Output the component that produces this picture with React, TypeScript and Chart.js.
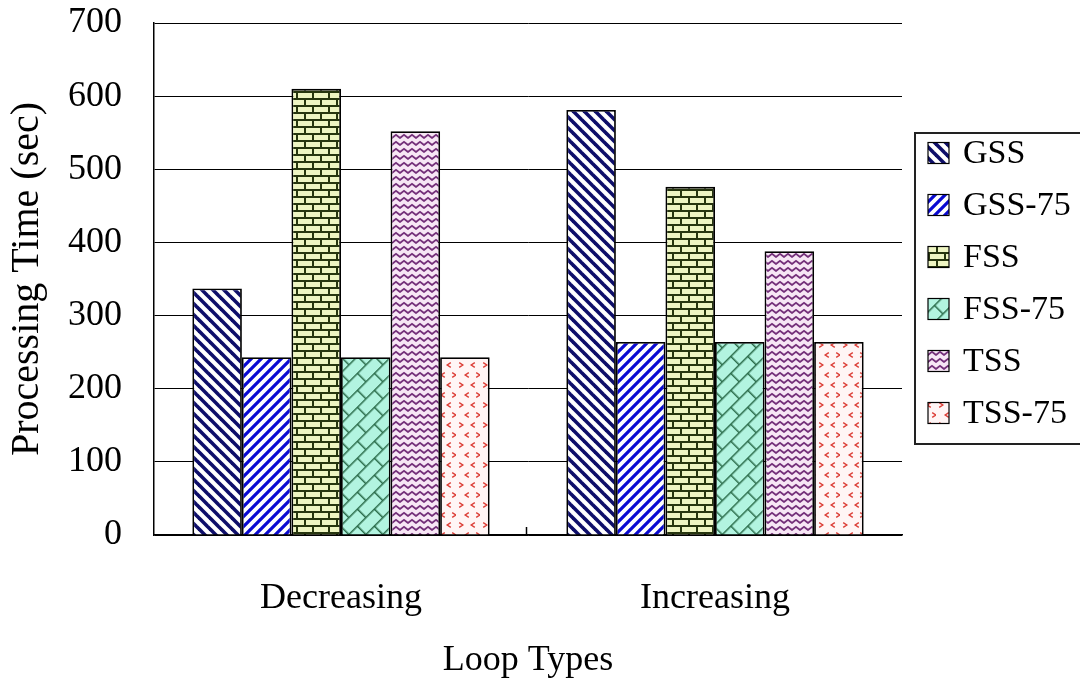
import React, { useEffect, useRef } from "react";
import { Chart, registerables } from "chart.js";

Chart.register(...registerables);

// Loop types on the x axis
const loopTypes = ["Decreasing", "Increasing"];

// Processing time (sec) per scheduling scheme
const gss = [337, 581];
const gss75 = [243, 264];
const fss = [610, 476];
const fss75 = [243, 264];
const tss = [552, 388];
const tss75 = [243, 264];

const seriesNames = ["GSS", "GSS-75", "FSS", "FSS-75", "TSS", "TSS-75"];
const seriesValues = [gss, gss75, fss, fss75, tss, tss75];

// Y axis tick values
const yTickValues = [0, 100, 200, 300, 400, 500, 600, 700];

const FONT = "'Liberation Serif', 'DejaVu Serif', serif";

type Painter = (g: CanvasRenderingContext2D) => void;

function makeTile(w: number, h: number, paint: Painter): HTMLCanvasElement {
  const c = document.createElement("canvas");
  c.width = w;
  c.height = h;
  const g = c.getContext("2d")!;
  paint(g);
  return c;
}

function stripes(size: number, color: string, width: number, rising: boolean): HTMLCanvasElement {
  return makeTile(size, size, (g) => {
    g.fillStyle = "#ffffff";
    g.fillRect(0, 0, size, size);
    g.strokeStyle = color;
    g.lineWidth = width;
    g.lineCap = "square";
    for (const o of [-size, 0, size]) {
      g.beginPath();
      if (rising) {
        g.moveTo(o, size);
        g.lineTo(o + size, 0);
      } else {
        g.moveTo(o, 0);
        g.lineTo(o + size, size);
      }
      g.stroke();
    }
  });
}

function bricks(w: number, rowH: number, bg: string, line: string, lw: number): HTMLCanvasElement {
  return makeTile(w, rowH * 2, (g) => {
    g.fillStyle = bg;
    g.fillRect(0, 0, w, rowH * 2);
    g.fillStyle = line;
    g.fillRect(0, 0, w, lw);
    g.fillRect(0, rowH, w, lw);
    g.fillRect(0, 0, lw, rowH);
    g.fillRect(w / 2, rowH, lw, rowH);
  });
}

function zigzag(): HTMLCanvasElement {
  return makeTile(8, 7, (g) => {
    g.fillStyle = "#f7e6f5";
    g.fillRect(0, 0, 8, 7);
    g.strokeStyle = "#74307a";
    g.lineWidth = 1.8;
    g.beginPath();
    g.moveTo(-2, 6);
    g.lineTo(0, 5);
    g.lineTo(4, 1.8);
    g.lineTo(8, 5);
    g.lineTo(10, 6);
    g.stroke();
  });
}

function chevrons(): HTMLCanvasElement {
  return makeTile(24, 20, (g) => {
    g.fillStyle = "#fff5f5";
    g.fillRect(0, 0, 24, 20);
    g.strokeStyle = "#dc3d36";
    g.lineWidth = 1.4;
    const mark = (x: number, y: number, right: boolean) => {
      const d = right ? 1 : -1;
      g.beginPath();
      g.moveTo(x - 1.8 * d, y - 2.4);
      g.lineTo(x + 1.8 * d, y);
      g.lineTo(x - 1.8 * d, y + 2.4);
      g.stroke();
    };
    mark(5, 5, true);
    mark(17, 5, false);
    mark(11, 15, false);
    mark(22, 15, true);
  });
}

function buildFills(ctx: CanvasRenderingContext2D): CanvasPattern[] {
  const pat = (c: HTMLCanvasElement, m?: DOMMatrix) => {
    const p = ctx.createPattern(c, "repeat")!;
    if (m) p.setTransform(m);
    return p;
  };
  return [
    pat(stripes(11, "#0e0e6a", 3.6, false)),
    pat(stripes(10, "#0a0ad2", 3.2, true)),
    pat(bricks(16, 7, "#eef5c2", "#27360f", 2)),
    pat(bricks(24, 12, "#b2f4e0", "#2a6c4a", 1.5), new DOMMatrix().rotate(-45)),
    pat(zigzag()),
    pat(chevrons()),
  ];
}

// Inward tick mark on the x axis between the two categories
const categoryDivider = {
  id: "categoryDivider",
  afterDraw(chart: any) {
    const x = chart.scales.x;
    const { ctx, chartArea } = chart;
    const n = chart.data.labels.length;
    ctx.save();
    ctx.strokeStyle = "#000";
    ctx.lineWidth = 1.5;
    for (let i = 0; i < n - 1; i++) {
      const px = Math.round((x.getPixelForValue(i) + x.getPixelForValue(i + 1)) / 2) - 1.5;
      ctx.beginPath();
      ctx.moveTo(px, chartArea.bottom - 8);
      ctx.lineTo(px, chartArea.bottom);
      ctx.stroke();
    }
    ctx.restore();
  },
};

// Boxed legend on the right with patterned swatches
const boxedLegend = {
  id: "boxedLegend",
  afterDraw(chart: any) {
    const { ctx } = chart;
    const boxX = 915;
    const boxY = 133;
    const boxW = 180;
    const boxH = 311;
    ctx.save();
    ctx.strokeStyle = "#222";
    ctx.lineWidth = 2;
    ctx.strokeRect(boxX, boxY, boxW, boxH);
    ctx.font = `34px ${FONT}`;
    ctx.textBaseline = "middle";
    ctx.textAlign = "left";
    ctx.fillStyle = "#000";
    chart.data.datasets.forEach((ds: any, i: number) => {
      const cy = 153 + i * 52;
      const s = 21;
      ctx.fillStyle = ds.backgroundColor;
      ctx.fillRect(928, cy - s / 2, s, s);
      ctx.strokeStyle = "#000";
      ctx.lineWidth = 1.2;
      ctx.strokeRect(928, cy - s / 2, s, s);
      ctx.fillStyle = "#000";
      ctx.fillText(ds.label, 963, cy + 1);
    });
    ctx.restore();
  },
};

export default function App() {
  const canvasRef = useRef<HTMLCanvasElement | null>(null);

  useEffect(() => {
    const canvas = canvasRef.current;
    if (!canvas) return;
    const ctx = canvas.getContext("2d")!;
    const fills = buildFills(ctx);
    const font = { family: FONT, size: 36 };

    const chart = new Chart(canvas, {
      type: "bar",
      data: {
        labels: loopTypes,
        datasets: seriesNames.map((name, i) => ({
          label: name,
          data: seriesValues[i],
          backgroundColor: fills[i] as any,
          borderColor: "#000",
          borderWidth: 1.8,
          categoryPercentage: 0.795,
          barPercentage: 1,
        })),
      },
      options: {
        responsive: false,
        animation: false,
        layout: { padding: { left: 0, right: 178, top: 23, bottom: 0 } },
        plugins: {
          legend: { display: false },
          tooltip: { enabled: false },
        },
        scales: {
          x: {
            offset: true,
            grid: { display: false, drawTicks: false },
            border: { display: true, color: "#000", width: 1.5 },
            ticks: { color: "#000", font, padding: 42, maxRotation: 0 },
            title: {
              display: true,
              text: "Loop Types",
              color: "#000",
              font,
              padding: { top: 0, bottom: 4 },
            },
            afterFit: (s: any) => {
              s.height = 151;
            },
          },
          y: {
            min: 0,
            max: 700,
            afterBuildTicks: (s: any) => {
              s.ticks = yTickValues.map((v) => ({ value: v }));
            },
            grid: {
              color: "#000",
              lineWidth: 1,
              drawTicks: true,
              tickLength: 31,
              tickColor: "rgba(0,0,0,0)",
            },
            border: { display: true, color: "#000", width: 1.5 },
            ticks: { color: "#000", font, padding: 1 },
            title: {
              display: true,
              text: "Processing Time (sec)",
              color: "#000",
              font: { family: FONT, size: 40 },
              padding: { top: 3, bottom: 0 },
            },
            afterFit: (s: any) => {
              s.width = 154;
            },
          },
        },
      },
      plugins: [categoryDivider, boxedLegend],
    });

    return () => chart.destroy();
  }, []);

  return (
    <div style={{ position: "absolute", left: 0, top: 0, width: 1080, height: 686, background: "#fff" }}>
      <canvas ref={canvasRef} width={1080} height={686} style={{ display: "block" }} />
    </div>
  );
}
